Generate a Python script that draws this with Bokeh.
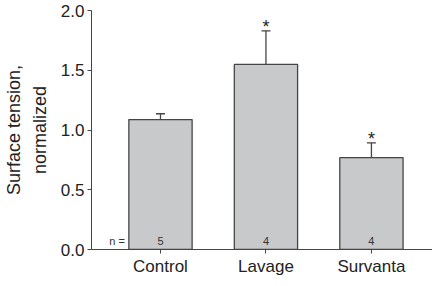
from bokeh.plotting import figure
from bokeh.models import ColumnDataSource, FixedTicker, Whisker, TeeHead, NumeralTickFormatter, LinearAxis
from bokeh.core.properties import value
from bokeh.embed import file_html
from bokeh.resources import INLINE

categories = ["Control", "Lavage", "Survanta"]
means = [1.087, 1.549, 0.769]
errors_upper = [1.136, 1.830, 0.893]
n_counts = ["5", "4", "4"]
significant = ["", "*", "*"]
y_ticks = [0.0, 0.5, 1.0, 1.5, 2.0]
y_label_lines = ["Surface tension,", "normalized"]

xs = [1, 2, 3]
bar_w = 0.6
FONT = "Liberation Sans"
LINE = "#454545"

src = ColumnDataSource(dict(x=xs, top=means, err=errors_upper, n=n_counts, sig=significant))

p = figure(width=432, height=278, output_backend="svg", toolbar_location=None,
           x_range=(0.346, 3.579), y_range=(0, 2.0),
           min_border_left=86, min_border_right=0, min_border_top=10, min_border_bottom=25)
p.outline_line_color = None
p.xgrid.visible = False
p.ygrid.visible = False
p.background_fill_color = "white"
p.border_fill_color = "white"

p.vbar(x="x", top="top", width=bar_w, bottom=0, source=src,
       fill_color="#c8c9cb", line_color=LINE, line_width=1.3)

wh = Whisker(base="x", lower="top", upper="err", source=src, dimension="height",
             line_color=LINE, line_width=1.3,
             upper_head=TeeHead(size=9, line_color=LINE, line_width=1.3),
             lower_head=None)
p.add_layout(wh)

p.text(x="x", y="err", text="sig", source=src, text_font=value(FONT),
       text_font_size="18px", text_align="center", text_baseline="alphabetic",
       y_offset=-4, text_color="#222222")

p.text(x="x", y=0, text="n", source=src, text_font=value(FONT),
       text_font_size="11px", text_align="center", text_baseline="middle",
       y_offset=-9, text_color="#333333")
p.text(x=[xs[0] - bar_w / 2], y=[0], text=["n ="], text_font=value(FONT),
       text_font_size="11px", text_align="right", text_baseline="middle",
       x_offset=-4, y_offset=-9, text_color="#333333")

# y axis (inner line of the label)
ya = p.yaxis[0]
ya.ticker = FixedTicker(ticks=y_ticks)
ya.formatter = NumeralTickFormatter(format="0.0")
ya.axis_label = y_label_lines[1]
ya.axis_label_text_font = FONT
ya.axis_label_text_font_style = "normal"
ya.axis_label_text_font_size = "18px"
ya.axis_label_text_color = "#222222"
ya.axis_label_standoff = 8
ya.major_label_text_font = FONT
ya.major_label_text_font_size = "17px"
ya.major_label_text_color = "#222222"
ya.major_label_standoff = 3
ya.major_tick_out = 4
ya.major_tick_in = 0
ya.minor_tick_out = 0
ya.minor_tick_in = 0
ya.axis_line_color = LINE
ya.major_tick_line_color = LINE

# outer line of the y label
ya2 = LinearAxis(ticker=FixedTicker(ticks=[]), axis_line_color=None,
                 major_tick_line_color=None, minor_tick_line_color=None,
                 major_tick_out=0, major_tick_in=0, minor_tick_out=0, minor_tick_in=0,
                 major_label_text_font_size="0px", major_label_standoff=0,
                 axis_label=y_label_lines[0], axis_label_standoff=3,
                 axis_label_text_font=FONT, axis_label_text_font_style="normal",
                 axis_label_text_font_size="18px", axis_label_text_color="#222222")
p.add_layout(ya2, "left")

# x axis
xa = p.xaxis[0]
xa.ticker = FixedTicker(ticks=xs)
xa.major_label_overrides = {x: c for x, c in zip(xs, categories)}
xa.major_label_text_font = FONT
xa.major_label_text_font_size = "17px"
xa.major_label_text_color = "#222222"
xa.major_label_standoff = 3
xa.major_tick_out = 4
xa.major_tick_in = 0
xa.minor_tick_out = 0
xa.minor_tick_in = 0
xa.axis_line_color = LINE
xa.major_tick_line_color = LINE

open("out.html", "w").write(file_html(p, INLINE))
